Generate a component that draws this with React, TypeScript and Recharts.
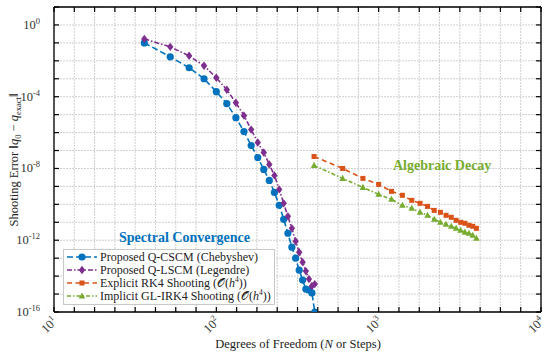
import { ScatterChart, Scatter, XAxis, YAxis, CartesianGrid } from "recharts";

const spectralN = [36, 52, 68, 84, 100, 116, 132, 148, 164, 180, 196, 212, 228, 244, 260, 276, 292, 308, 324, 340, 356, 372, 388, 404];
const cscmErr = [1.0e-1, 1.67e-2, 4.1e-3, 1.0e-3, 1.9e-4, 4.1e-5, 6.8e-6, 1.14e-6, 1.9e-7, 4.1e-8, 8.8e-9, 2.15e-9, 4.6e-10, 8.8e-11, 1.47e-11, 2.45e-12, 4.1e-13, 1.0e-13, 2.15e-14, 6.0e-15, 1.9e-15, 1.66e-15, 1.15e-15, 1.0e-16];
const lscmErr = [1.67e-1, 6.0e-2, 1.9e-2, 5.3e-3, 1.14e-3, 2.45e-4, 4.6e-5, 8.8e-6, 1.47e-6, 2.8e-7, 7.7e-8, 1.67e-8, 4.1e-9, 6.8e-10, 1.14e-10, 2.15e-11, 4.6e-12, 8.8e-13, 2.15e-13, 6.0e-14, 1.9e-14, 6.8e-15, 2.8e-15, 3.6e-15];

const stepsN = [400, 600, 800, 1000, 1200, 1400, 1600, 1800, 2000, 2200, 2400, 2600, 2800, 3000, 3200, 3400, 3600, 3800, 4000];
const rk4Err = [4.64e-8, 1.0e-8, 2.8e-9, 1.29e-9, 5.3e-10, 3.2e-10, 1.67e-10, 1.14e-10, 7.7e-11, 4.6e-11, 3.6e-11, 2.45e-11, 1.9e-11, 1.29e-11, 1.0e-11, 8.8e-12, 6.8e-12, 6.0e-12, 4.6e-12];
const irk4Err = [1.47e-8, 2.8e-9, 8.8e-10, 3.6e-10, 1.9e-10, 8.8e-11, 6.0e-11, 3.6e-11, 2.45e-11, 1.47e-11, 1.0e-11, 7.7e-12, 6.0e-12, 4.6e-12, 3.6e-12, 2.8e-12, 2.45e-12, 1.9e-12, 1.29e-12];

// tick positions: x every 1/8 decade, y every decade
const xTickExp = [1, 1.125, 1.25, 1.375, 1.5, 1.625, 1.75, 1.875, 2, 2.125, 2.25, 2.375, 2.5, 2.625, 2.75, 2.875, 3, 3.125, 3.25, 3.375, 3.5, 3.625, 3.75, 3.875, 4];
const xLabelExp = [1, 2, 3, 4];
const yTickExp = [1, 0, -1, -2, -3, -4, -5, -6, -7, -8, -9, -10, -11, -12, -13, -14, -15, -16];
const yLabelExp = [0, -4, -8, -12, -16];

const xTicks = xTickExp.map((e) => Math.pow(10, e));
const yTicks = yTickExp.map((e) => Math.pow(10, e));

const BLUE = "#0072BD";
const PURPLE = "#7E2F8E";
const ORANGE = "#D95319";
const GREEN = "#77AC30";
const FONT = "'Liberation Serif', serif";

const toPts = (xs: number[], ys: number[]) => xs.map((x, i) => ({ x, y: ys[i] }));
const cscm = toPts(spectralN, cscmErr);
const lscm = toPts(spectralN, lscmErr);
const rk4 = toPts(stepsN, rk4Err);
const irk4 = toPts(stepsN, irk4Err);

const Marker = ({ kind, cx, cy, color }: any) => {
  if (cx == null || cy == null) return null;
  if (kind === "circle") return <circle cx={cx} cy={cy} r={3.6} fill={color} />;
  if (kind === "diamond")
    return <polygon points={`${cx},${cy - 4.2} ${cx + 3.2},${cy} ${cx},${cy + 4.2} ${cx - 3.2},${cy}`} fill={color} />;
  if (kind === "square") return <rect x={cx - 2.5} y={cy - 2.5} width={5} height={5} fill={color} />;
  return <polygon points={`${cx},${cy - 3.6} ${cx + 3.3},${cy + 2.5} ${cx - 3.3},${cy + 2.5}`} fill={color} />;
};

const series = [
  { name: "Proposed Q-CSCM (Chebyshev)", data: cscm, color: BLUE, kind: "circle", dash: "6 3" },
  { name: "Proposed Q-LSCM (Legendre)", data: lscm, color: PURPLE, kind: "diamond", dash: "5 2 1.5 2" },
  { name: "Explicit RK4 Shooting", data: rk4, color: ORANGE, kind: "square", dash: "5 3.5" },
  { name: "Implicit GL-IRK4 Shooting", data: irk4, color: GREEN, kind: "triangle", dash: "4 2 1.5 2" },
];

const Pow = ({ e }: { e: number }) => (
  <>
    <tspan>10</tspan>
    <tspan dy={-5} fontSize={8.5}>{e}</tspan>
  </>
);

const isLabel = (v: number, list: number[]) => list.some((e) => Math.abs(Math.log10(v) - e) < 1e-6);

const BottomTick = ({ x, y, payload }: any) => {
  const v = payload.value;
  const lab = isLabel(v, xLabelExp);
  return (
    <g>
      <line x1={x} x2={x} y1={y} y2={y - 5} stroke="#000" strokeWidth={1.2} />
      {lab && (
        <text transform={`translate(${x + 4},${y + 10}) rotate(-45)`} textAnchor="end" fontSize={12.5} fontFamily={FONT} fill="#333">
          <Pow e={Math.round(Math.log10(v))} />
        </text>
      )}
    </g>
  );
};

const TopTick = ({ x, y }: any) => (
  <g>
    <line x1={x} x2={x} y1={y} y2={y + 5} stroke="#000" strokeWidth={1.2} />
  </g>
);

const LeftTick = ({ x, y, payload }: any) => {
  const v = payload.value;
  const lab = isLabel(v, yLabelExp);
  return (
    <g>
      <line x1={x} x2={x + 5} y1={y} y2={y} stroke="#000" strokeWidth={1.2} />
      {lab && (
        <text x={x - 14} y={y + 4} textAnchor="end" fontSize={12.5} fontFamily={FONT} fill="#333">
          <Pow e={Math.round(Math.log10(v))} />
        </text>
      )}
    </g>
  );
};

const RightTick = ({ x, y }: any) => (
  <g>
    <line x1={x} x2={x - 5} y1={y} y2={y} stroke="#000" strokeWidth={1.2} />
  </g>
);

const LegendBox = () => (
  <div
    style={{
      position: "absolute",
      left: 63,
      top: 249,
      background: "#fff",
      border: "1px solid #c8c8c8",
      padding: "1px 3px 2px 2px",
      fontFamily: FONT,
      fontSize: 12,
      color: "#222",
    }}
  >
    {series.map((s, i) => (
      <div key={s.name} style={{ display: "flex", alignItems: "center", height: 12.8, whiteSpace: "nowrap" }}>
        <svg width={32} height={10} style={{ marginRight: 2 }}>
          <line x1={1} x2={31} y1={5} y2={5} stroke={s.color} strokeWidth={1.6} strokeDasharray={s.dash} />
          <Marker kind={s.kind} cx={16} cy={5} color={s.color} />
        </svg>
        <span>
          {s.name}
          {i >= 2 && (
            <>
              {" "}(𝒪(<i>h</i>
              <sup style={{ fontSize: 7.5 }}>4</sup>))
            </>
          )}
        </span>
      </div>
    ))}
  </div>
);

export default function App() {
  return (
    <div style={{ position: "absolute", left: 0, top: 0, width: 550, height: 359 }}>
      <ScatterChart width={550} height={359} margin={{ top: 1, right: 1, left: 0, bottom: 0 }}>
        <CartesianGrid stroke="#cfcfcf" strokeWidth={1} strokeDasharray="2 1" />
        <XAxis
          dataKey="x"
          type="number"
          scale="log"
          domain={[10, 10000]}
          allowDataOverflow
          ticks={xTicks}
          interval={0}
          height={47}
          tickSize={0}
          tickMargin={0}
          tickLine={false}
          axisLine={{ stroke: "#000", strokeWidth: 1.3 }}
          tick={<BottomTick />}
        />
        <XAxis
          xAxisId="top"
          orientation="top"
          dataKey="x"
          type="number"
          scale="log"
          domain={[10, 10000]}
          allowDataOverflow
          ticks={xTicks}
          interval={0}
          height={6}
          tickSize={0}
          tickMargin={0}
          tickLine={false}
          axisLine={{ stroke: "#000", strokeWidth: 1.3 }}
          tick={<TopTick />}
        />
        <YAxis
          dataKey="y"
          type="number"
          scale="log"
          domain={[1e-16, 10]}
          allowDataOverflow
          ticks={yTicks}
          interval={0}
          width={54}
          tickSize={0}
          tickMargin={0}
          tickLine={false}
          axisLine={{ stroke: "#000", strokeWidth: 1.3 }}
          tick={<LeftTick />}
        />
        <YAxis
          yAxisId="right"
          orientation="right"
          dataKey="y"
          type="number"
          scale="log"
          domain={[1e-16, 10]}
          allowDataOverflow
          ticks={yTicks}
          interval={0}
          width={8}
          tickSize={0}
          tickMargin={0}
          tickLine={false}
          axisLine={{ stroke: "#000", strokeWidth: 1.3 }}
          tick={<RightTick />}
        />
        {series.map((s) => (
          <Scatter
            key={s.name}
            name={s.name}
            data={s.data}
            fill={s.color}
            isAnimationActive={false}
            line={{ stroke: s.color, strokeWidth: 1.6, strokeDasharray: s.dash }}
            lineType="joint"
            shape={(p: any) => <Marker kind={s.kind} cx={p.cx} cy={p.cy} color={s.color} />}
          />
        ))}
      </ScatterChart>

      <LegendBox />
      <div style={{ position: "absolute", left: 119, top: 230, fontFamily: FONT, fontSize: 14, fontWeight: "bold", color: BLUE, whiteSpace: "nowrap" }}>
        Spectral Convergence
      </div>
      <div style={{ position: "absolute", left: 393, top: 158, fontFamily: FONT, fontSize: 14, fontWeight: "bold", color: GREEN, whiteSpace: "nowrap" }}>
        Algebraic Decay
      </div>
      <div
        style={{
          position: "absolute",
          left: 15,
          top: 160,
          transform: "translate(-50%, -50%) rotate(-90deg)",
          fontFamily: FONT,
          fontSize: 12.5,
          whiteSpace: "nowrap",
          color: "#222",
        }}
      >
        Shooting Error ‖<i>q</i>
        <sub style={{ fontSize: 8.5 }}>0</sub> − <i>q</i>
        <sub style={{ fontSize: 8.5 }}>exact</sub>‖
      </div>
      <div
        style={{ position: "absolute", left: 298, top: 337, transform: "translateX(-50%)", fontFamily: FONT, fontSize: 12.5, whiteSpace: "nowrap", color: "#222" }}
      >
        Degrees of Freedom (<i>N</i> or Steps)
      </div>
    </div>
  );
}
